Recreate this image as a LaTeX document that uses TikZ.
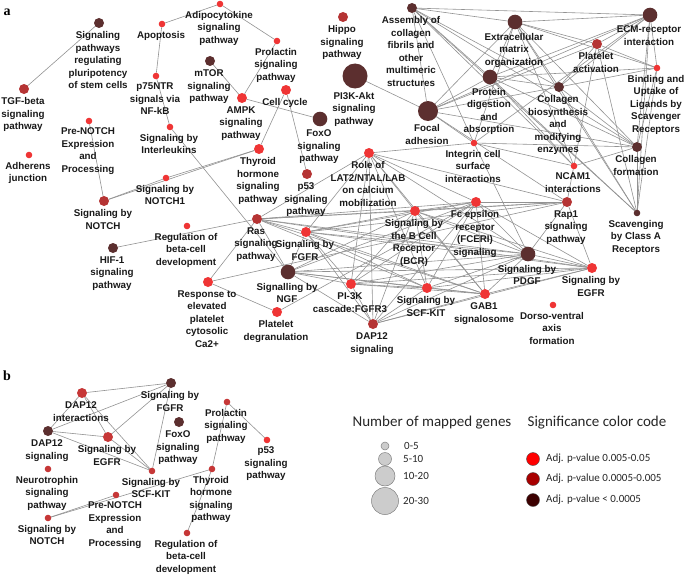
\documentclass[tikz,border=0pt]{standalone}
\usepackage{fontspec}
\setmainfont{Liberation Sans}
\newfontfamily\lgfont{Carlito}
\newfontfamily\serfont{Liberation Serif}
\definecolor{cRed}{HTML}{EF3535}
\definecolor{cMid}{HTML}{B53434}
\definecolor{cDark}{HTML}{5C2F2F}
\definecolor{cBr}{HTML}{C63737}
\definecolor{eg}{HTML}{929292}
\definecolor{lgA}{HTML}{FF0000}
\definecolor{lgB}{HTML}{A80000}
\definecolor{lgC}{HTML}{3C0000}
\pgfdeclarelayer{bg}
\pgfsetlayers{bg,main}
\tikzset{
  dot/.style={circle, inner sep=0pt, outer sep=0pt, draw=none},
  szT/.style={minimum size=6.6pt},
  szS/.style={minimum size=10pt},
  szM/.style={minimum size=14.6pt},
  szL/.style={minimum size=20pt},
  szX/.style={minimum size=25pt},
  cR/.style={fill=cRed},
  cM/.style={fill=cMid},
  cD/.style={fill=cDark},
  cB/.style={fill=cBr},
  lb/.style={font=\bfseries\fontsize{9.8}{12.5}\selectfont, align=center, inner sep=0pt, text=black!90, xshift=-1pt},
  edge/.style={draw=eg, line width=0.6pt},
  lgt/.style={font=\lgfont\fontsize{15}{15}\selectfont, inner sep=0pt, text=black!85},
  lgi/.style={font=\lgfont\fontsize{11}{11}\selectfont, inner sep=0pt, anchor=west, text=black!85},
  gcirc/.style={circle, inner sep=0pt, fill=black!20, draw=black!50, line width=0.5pt},
  ccirc/.style={circle, inner sep=0pt, minimum size=13pt, draw=black!70, line width=0.4pt},
  plab/.style={font=\serfont\bfseries\fontsize{14}{14}\selectfont, inner sep=0pt}
}
\newcommand\nd[5]{\node[dot,#4,label={[lb]below:{#5}}] (#1) at (#2,#3) {};}
\begin{document}
\begin{tikzpicture}[x=1pt,y=-1pt,label distance=3.5pt]
\useasboundingbox (0,0) rectangle (685,578);
\node[plab] (pa) at (7,12) {a};
\node[plab] (pb) at (7,376) {b};
% panel a
\nd{plur}{99}{23}{szS,cD}{Signaling\\pathways\\regulating\\pluripotency\\of stem cells}
\nd{tgf}{24}{89}{szS,cM}{TGF-beta\\signaling\\pathway}
\nd{adh}{29}{155}{szT,cR}{Adherens\\junction}
\nd{prenotch}{89}{121}{szT,cR}{Pre-NOTCH\\Expression\\and\\Processing}
\nd{notch}{104}{201}{szS,cM}{Signaling by\\NOTCH}
\nd{notchone}{166}{178}{szT,cR}{Signaling by\\NOTCH1}
\nd{hif}{113}{248}{szS,cD}{HIF-1\\signaling\\pathway}
\nd{regul}{187}{226}{szT,cR}{Regulation of\\beta-cell\\development}
\nd{apop}{162}{24}{szT,cR}{Apoptosis}
\nd{adipo}{220}{4}{szT,cR}{Adipocytokine\\signaling\\pathway}
\nd{ptf}{156}{76}{szT,cR}{p75NTR\\signals via\\NF-kB}
\nd{ilk}{170}{127}{szT,cR}{Signaling by\\Interleukins}
\nd{mtor}{210}{61}{szS,cD}{mTOR\\signaling\\pathway}
\nd{prol}{277}{41}{szT,cR}{Prolactin\\signaling\\pathway}
\nd{ampk}{242}{98}{szS,cR}{AMPK\\signaling\\pathway}
\nd{ccyc}{286}{90}{szS,cR}{Cell cycle}
\nd{foxo}{320}{119}{szM,cD}{FoxO\\signaling\\pathway}
\nd{hippo}{343}{17}{szS,cM}{Hippo\\signaling\\pathway}
\nd{akt}{355}{76}{szX,cD}{PI3K-Akt\\signaling\\pathway}
\nd{thyr}{259}{149}{szS,cR}{Thyroid\\hormone\\signaling\\pathway}
\nd{pft}{307}{174}{szS,cM}{p53\\signaling\\pathway}
\nd{lat}{369}{153}{szS,cR}{Role of\\LAT2/NTAL/LAB\\on calcium\\mobilization}
\nd{ras}{257}{219}{szS,cM}{Ras\\signaling\\pathway}
\nd{fgfr}{306}{232}{szS,cR}{Signaling by\\FGFR}
\nd{ngf}{288}{272}{szM,cD}{Signalling by\\NGF}
\nd{resp}{208}{282}{szS,cR}{Response to\\elevated\\platelet\\cytosolic\\Ca2+}
\nd{pdeg}{277}{312}{szS,cR}{Platelet\\degranulation}
\nd{pik}{351}{284}{szS,cR}{PI-3K\\cascade:FGFR3}
\nd{dap}{373}{324}{szS,cM}{DAP12\\signaling}
\nd{bcr}{415}{211}{szS,cR}{Signaling by\\the B Cell\\Receptor\\(BCR)}
\nd{scf}{427}{288}{szS,cR}{Signaling by\\SCF-KIT}
\nd{fce}{476}{202}{szS,cR}{Fc epsilon\\receptor\\(FCERI)\\signaling}
\nd{gab}{485}{294}{szS,cR}{GAB1\\signalosome}
\nd{pdgf}{528}{254}{szM,cD}{Signaling by\\PDGF}
\nd{rap}{567}{202}{szS,cM}{Rap1\\signaling\\pathway}
\nd{egfr}{592}{268}{szS,cR}{Signaling by\\EGFR}
\nd{dorso}{553}{305}{szT,cR}{Dorso-ventral\\axis\\formation}
\nd{integ}{474}{143}{szT,cR}{Integrin cell\\surface\\interactions}
\nd{ncam}{574}{166}{szT,cR}{NCAM1\\interactions}
\nd{scav}{637}{213}{szT,cD}{Scavenging\\by Class A\\Receptors}
\nd{cform}{637}{147}{szS,cD}{Collagen\\formation}
\nd{focal}{428}{111}{szL,cD}{Focal\\adhesion}
\nd{assem}{412}{8}{szS,cD}{Assembly of\\collagen\\fibrils and\\other\\multimeric\\structures}
\nd{extra}{515}{22}{szM,cD}{Extracellular\\matrix\\organization}
\nd{prot}{490}{77}{szM,cD}{Protein\\digestion\\and\\absorption}
\nd{cbio}{559}{87}{szS,cD}{Collagen\\biosynthesis\\and\\modifying\\enzymes}
\nd{pact}{597}{44}{szS,cM}{Platelet\\activation}
\nd{ecm}{650}{15}{szM,cD}{ECM-receptor\\interaction}
\nd{bind}{657}{68}{szT,cR}{Binding and\\Uptake of\\Ligands by\\Scavenger\\Receptors}
% panel b
\nd{bfgfr}{171}{383}{szS,cD}{Signaling by\\FGFR}
\nd{bdapi}{82}{393}{szS,cB}{DAP12\\interactions}
\nd{bdaps}{48}{431}{szS,cD}{DAP12\\signaling}
\nd{begfr}{108}{437}{szS,cB}{Signaling by\\EGFR}
\nd{bfoxo}{179}{422}{szS,cD}{FoxO\\signaling\\pathway}
\nd{bprol}{227}{402}{szT,cB}{Prolactin\\signaling\\pathway}
\nd{bpft}{267}{440}{szT,cR}{p53\\signaling\\pathway}
\nd{bscf}{152}{471}{szT,cB}{Signaling by\\SCF-KIT}
\nd{bthyr}{212}{469}{szT,cB}{Thyroid\\hormone\\signaling\\pathway}
\nd{bneur}{48}{469}{szT,cB}{Neurotrophin\\signaling\\pathway}
\nd{bpren}{116}{495}{szT,cB}{Pre-NOTCH\\Expression\\and\\Processing}
\nd{bnotch}{48}{518}{szT,cB}{Signaling by\\NOTCH}
\nd{bregul}{187}{533}{szT,cB}{Regulation of\\beta-cell\\development}
% edges
\begin{pgfonlayer}{bg}
\foreach \a/\b in {plur/tgf, apop/adipo, apop/ptf, ptf/ilk, adipo/prol, prol/ampk, mtor/ampk, ampk/foxo, ccyc/thyr, ccyc/pft, ilk/ngf, prenotch/notch, notch/notchone, notch/thyr, notchone/thyr, hif/ras, resp/ras, resp/pdeg, resp/rap, pdeg/fce, akt/focal,
  ras/fgfr, ras/ngf, ras/bcr, ras/fce, ras/pdgf, ras/rap, ras/egfr, ras/lat, ras/scf, ras/gab,
  fgfr/ngf, fgfr/pik, fgfr/scf, fgfr/gab, fgfr/pdgf, fgfr/egfr, fgfr/bcr, fgfr/fce, fgfr/lat, fgfr/dap, fgfr/rap,
  ngf/pik, ngf/scf, ngf/gab, ngf/pdgf, ngf/egfr, ngf/dap, ngf/bcr, ngf/fce,
  pik/scf, pik/gab, pik/pdgf, pik/egfr, pik/dap, pik/bcr, pik/lat, pik/fce,
  dap/scf, dap/gab, dap/pdgf, dap/egfr, dap/bcr, dap/fce, dap/lat,
  scf/gab, scf/pdgf, scf/egfr, scf/bcr, scf/fce, scf/lat,
  bcr/fce, bcr/lat, bcr/gab, bcr/pdgf, bcr/egfr, bcr/rap,
  fce/lat, fce/gab, fce/pdgf, fce/egfr, fce/rap,
  gab/pdgf, gab/egfr, pdgf/egfr, pdgf/rap, rap/egfr, lat/gab, lat/pdgf, lat/rap, integ/pdgf, integ/lat,
  assem/extra, assem/ecm, assem/prot, assem/cbio, assem/cform, assem/focal, assem/integ, assem/scav, assem/ncam,
  extra/ecm, extra/prot, extra/cbio, extra/cform, extra/focal, extra/integ, extra/scav, extra/bind, extra/ncam, extra/pact,
  ecm/prot, ecm/cbio, ecm/cform, ecm/focal, ecm/integ, ecm/bind, ecm/pact, ecm/scav,
  prot/cbio, prot/cform, prot/focal, prot/bind, prot/scav, prot/ncam,
  cbio/cform, cbio/scav, cbio/bind, cbio/focal, cbio/pact,
  focal/cform, focal/integ, focal/pact, focal/rap,
  integ/cform, integ/ncam, cform/scav, cform/bind, cform/ncam, bind/scav, bind/pact, pact/rap, pact/scav,
  bfgfr/bdapi, bfgfr/bdaps, bfgfr/begfr, bfgfr/bscf, bdapi/bdaps, bdapi/begfr, bdapi/bscf, bdaps/begfr, bdaps/bscf, begfr/bscf,
  bprol/bpft, bprol/bthyr, bthyr/bregul, bthyr/bnotch, bnotch/bpren}
  \draw[edge] (\a) -- (\b);
\end{pgfonlayer}
% legend
\node[lgt] (lgtA) at (432,423) {Number of mapped genes};
\node[lgt] (lgtB) at (597,423) {Significance color code};
\node[gcirc, minimum size=8pt] (gA) at (385,446) {};
\node[gcirc, minimum size=13pt] (gB) at (385,459) {};
\node[gcirc, minimum size=20pt] (gC) at (385,476) {};
\node[gcirc, minimum size=27pt] (gD) at (385,501) {};
\node[lgi] (gAt) at (404,446) {0-5};
\node[lgi] (gBt) at (403,459) {5-10};
\node[lgi] (gCt) at (403,476) {10-20};
\node[lgi] (gDt) at (403,501) {20-30};
\node[ccirc, fill=lgA] (kA) at (533,459) {};
\node[ccirc, fill=lgB] (kB) at (533,479) {};
\node[ccirc, fill=lgC] (kC) at (533,500) {};
\node[lgi] (kAt) at (546,459) {Adj. p-value 0.005-0.05};
\node[lgi] (kBt) at (546,479) {Adj. p-value 0.0005-0.005};
\node[lgi] (kCt) at (546,500) {Adj. p-value < 0.0005};
\end{tikzpicture}
\end{document}
